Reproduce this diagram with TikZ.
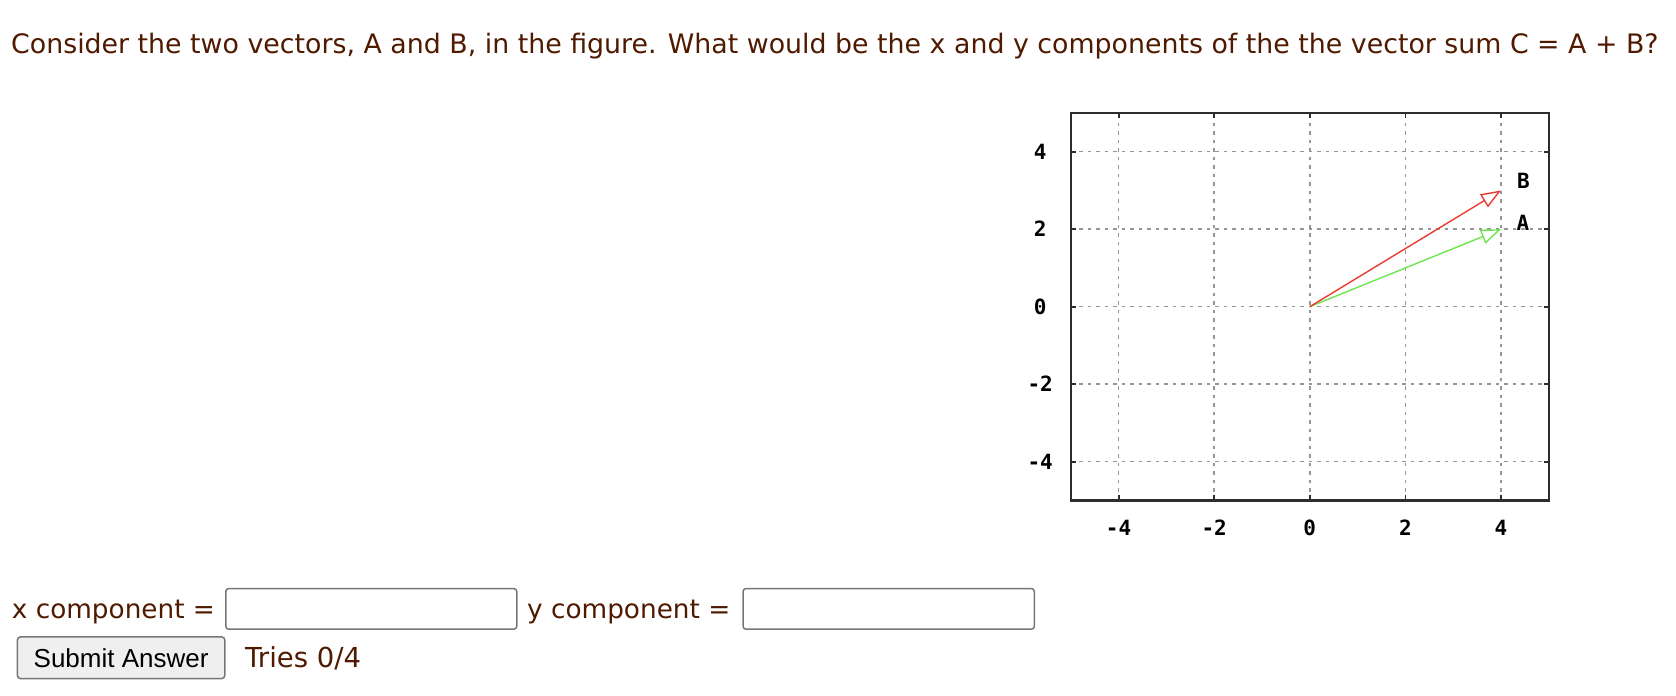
\documentclass[tikz,border=0pt]{standalone}
\usepackage{fontspec}
\setmainfont{DejaVu Sans}
\newfontfamily\plotfont{DejaVu Sans Mono}
\newfontfamily\buttonfont{Liberation Sans}
\usetikzlibrary{arrows.meta}

\definecolor{textbrown}{HTML}{4F1A00}
\definecolor{vecred}{RGB}{235,60,50}
\definecolor{vecgreen}{RGB}{110,230,80}
\definecolor{gridgray}{RGB}{150,150,150}
\definecolor{framegray}{RGB}{45,45,45}
\definecolor{boxgray}{RGB}{118,118,118}
\definecolor{buttonfill}{RGB}{239,239,239}

\tikzset{
  question/.style={text=textbrown, font=\fontsize{26.3}{30}\selectfont, inner sep=0pt},
  entrybox/.style={draw=boxgray, line width=1.5pt, rounded corners=3pt, minimum height=40.7pt, anchor=south west, inner sep=0pt},
  ticklabel/.style={font=\plotfont\bfseries\fontsize{21}{24}\selectfont, text=black, inner sep=0pt},
  gridline/.style={gridgray, line width=1.5pt, dash pattern=on 3.5pt off 5pt},
  tickmark/.style={framegray, line width=1.8pt},
  vector/.style={line width=1.4pt, -{Triangle[open, length=20pt, width=15pt, line width=1.4pt]}},
}

\begin{document}
\begin{tikzpicture}[x=1pt,y=1pt]
  \useasboundingbox (0,0) rectangle (1676,696);
  %%%%% QUESTION %%%%%
  \node[question, anchor=base west, font=\fontsize{26.8}{30}\selectfont] (title) at (11,642)
    {Consider the two vectors, A and B, in the figure. What would be the x and y components of the the vector sum C = A + B?};

  %%%%% PLOT %%%%%
  \begin{scope}[shift={(1309.8,389.3)}, x=47.8pt, y=38.75pt]
    \foreach \v [count=\i] in {-4,-2,...,4} {
      \draw[gridline] (\v,-5) -- (\v,5);
      \draw[gridline] (-5,\v) -- (5,\v);
      \draw[tickmark] (\v,-5) -- ++(0,5pt);
      \draw[tickmark] (\v,5) -- ++(0,-5pt);
      \draw[tickmark] (-5,\v) -- ++(5pt,0);
      \draw[tickmark] (5,\v) -- ++(-5pt,0);
      \node[ticklabel] (xtick\i) at (\v,-5.71) {\v};
      \node[ticklabel] (ytick\i) at (-5.64,\v) {\v};
    }
    \draw[framegray, line width=2.5pt] (-5,-5) rectangle (5,5);

    \coordinate (origin) at (0,0);
    \coordinate (tipA) at (4,2);
    \coordinate (tipB) at (4,3);
    \draw[vector, vecgreen] (origin) -- (tipA);
    \draw[vector, vecred] (origin) -- (tipB);
    \node[ticklabel] (labelA) at (4.46,2.16) {A};
    \node[ticklabel] (labelB) at (4.47,3.24) {B};
  \end{scope}

  %%%%% ANSWER FORM %%%%%
  \node[question, anchor=base west] (xlabel) at (11.7,77) {x component =};
  \node[entrybox, minimum width=291pt] (xbox) at (225,66) {};
  \node[question, anchor=base west] (ylabel) at (527,77) {y component =};
  \node[entrybox, minimum width=291.3pt] (ybox) at (742.3,66) {};

  \node[draw=boxgray, fill=buttonfill, line width=1.5pt, rounded corners=3pt,
        minimum width=207.3pt, minimum height=41.6pt, anchor=south west, inner sep=0pt,
        font=\buttonfont\fontsize{26}{30}\selectfont] (submit) at (16.7,16.7) {Submit Answer};
  \node[question, anchor=base west, font=\fontsize{27.5}{30}\selectfont] (tries) at (245,28) {Tries 0/4};
\end{tikzpicture}
\end{document}
